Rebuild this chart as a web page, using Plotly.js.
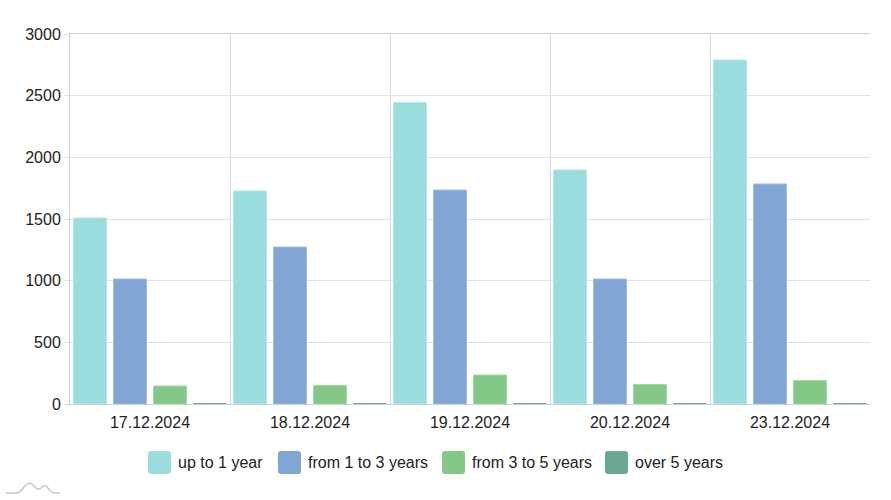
<!DOCTYPE html>
<html>
<head>
<meta charset="utf-8">
<script src="https://cdn.plot.ly/plotly-3.0.1.min.js"></script>
<style>html,body{margin:0;padding:0;background:#fff;}#chart{width:891px;height:500px;}</style>
</head>
<body>
<div id="chart"></div>
<script>
const categories = ["17.12.2024", "18.12.2024", "19.12.2024", "20.12.2024", "23.12.2024"];
const seriesNames = ["up to 1 year", "from 1 to 3 years", "from 3 to 5 years", "over 5 years"];
const upTo1Year = [1508, 1727, 2445, 1897, 2789];
const from1To3Years = [1014, 1273, 1735, 1014, 1784];
const from3To5Years = [146, 150, 235, 158, 190];
const over5Years = [5, 5, 6, 4, 5];
const yTicks = [0, 500, 1000, 1500, 2000, 2500, 3000];

const fills = ["rgb(154,221,220)", "rgb(130,166,211)", "rgb(132,200,135)", "rgb(106,168,150)"];
const borders = ["rgb(178,232,231)", "rgb(160,190,228)", "rgb(160,216,162)", "rgb(106,168,150)"];
const values = [upTo1Year, from1To3Years, from3To5Years, over5Years];

const traces = values.map((v, i) => ({
  type: "bar",
  name: seriesNames[i],
  x: categories,
  y: v,
  marker: {color: fills[i], line: {color: borders[i], width: i === 3 ? 0 : 1}},
  hoverinfo: "x+y+name"
}));

const W = 891, H = 500;
const M = {l: 70, r: 21, t: 34, b: 96};
const pw = W - M.l - M.r, ph = H - M.t - M.b;
const px = x => (x - M.l) / pw;
const py = y => (H - M.b - y) / ph;

// custom legend (large rounded swatches)
const legendX = [148, 278, 442, 605];
const sw = 23, legTop = 451, r = 3;
const shapes = [];
const annotations = [];
legendX.forEach((lx, i) => {
  const x0 = px(lx), x1 = px(lx + sw), y0 = py(legTop + sw), y1 = py(legTop);
  const rx = r / pw, ry = r / ph;
  shapes.push({
    type: "path", xref: "paper", yref: "paper",
    path: `M ${x0 + rx},${y1} L ${x1 - rx},${y1} Q ${x1},${y1} ${x1},${y1 - ry} L ${x1},${y0 + ry} Q ${x1},${y0} ${x1 - rx},${y0} L ${x0 + rx},${y0} Q ${x0},${y0} ${x0},${y0 + ry} L ${x0},${y1 - ry} Q ${x0},${y1} ${x0 + rx},${y1} Z`,
    fillcolor: fills[i], line: {width: 0}
  });
  annotations.push({
    xref: "paper", yref: "paper", x: px(lx + sw + 5), y: py(legTop + sw / 2),
    xanchor: "left", yanchor: "middle", showarrow: false,
    text: seriesNames[i], font: {family: "Liberation Sans, Arial, sans-serif", size: 16, color: "#222"}
  });
});
// small watermark logo bottom-left
const lp = (x, y) => `${px(x)},${py(y)}`;
shapes.push({
  type: "path", xref: "paper", yref: "paper",
  path: `M ${lp(6,493)} L ${lp(16,493)} Q ${lp(20,493)} ${lp(24,487)} Q ${lp(29,480)} ${lp(34,486)} Q ${lp(38,491)} ${lp(41,488)} Q ${lp(44,484)} ${lp(47,487)} Q ${lp(50,491)} ${lp(53,493)} L ${lp(60,493)}`,
  line: {color: "#c8c8c8", width: 1.5}
});

const layout = {
  width: W, height: H,
  margin: M,
  paper_bgcolor: "#fff", plot_bgcolor: "#fff",
  showlegend: false,
  barmode: "group",
  bargap: 0,
  bargroupgap: 0.175,
  font: {family: "Liberation Sans, Arial, sans-serif", size: 16, color: "#222"},
  xaxis: {
    type: "category",
    tickson: "boundaries",
    showgrid: true, gridcolor: "#d9d9d9", gridwidth: 1,
    showline: true, linecolor: "#cfcfcf", linewidth: 1,
    mirror: true,
    ticks: "outside", ticklen: 0, tickcolor: "#d9d9d9",
    ticklabelstandoff: 4,
    tickfont: {size: 16, color: "#222"},
    fixedrange: true
  },
  yaxis: {
    range: [0, 3000],
    tickvals: yTicks,
    ticktext: yTicks.map(String),
    showgrid: true, gridcolor: "#e2e2e2", gridwidth: 1,
    showline: true, linecolor: "#cfcfcf", linewidth: 1,
    ticks: "outside", ticklen: 5, tickcolor: "#e2e2e2",
    tickfont: {size: 16, color: "#222"},
    zeroline: false,
    fixedrange: true
  },
  shapes: shapes,
  annotations: annotations
};

Plotly.newPlot("chart", traces, layout, {displayModeBar: false, staticPlot: false});
</script>
</body>
</html>
